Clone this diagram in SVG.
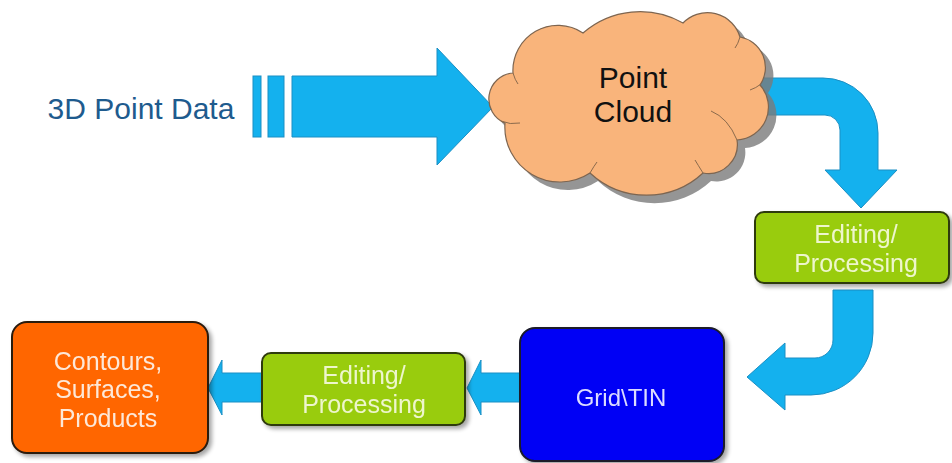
<svg xmlns="http://www.w3.org/2000/svg" width="952" height="463" viewBox="0 0 952 463">
<defs>
<filter id="sh" x="-10%" y="-10%" width="130%" height="130%">
<feGaussianBlur in="SourceAlpha" stdDeviation="2"/>
<feOffset dx="3" dy="3" result="b"/>
<feComponentTransfer><feFuncA type="linear" slope="0.35"/></feComponentTransfer>
<feMerge><feMergeNode/><feMergeNode in="SourceGraphic"/></feMerge>
</filter>
<path id="cloudShape" d="M505,123 A26,26 0 0 1 513,73 A45,45 0 0 1 583,33 A87,87 0 0 1 683,23 A34,34 0 0 1 740,37 A31,31 0 0 1 760,85 A33,33 0 0 1 737,140 A29,29 0 0 1 703,173 A83,83 0 0 1 590,173 A55,55 0 0 1 505,123 Z"/>
</defs>
<style>
.arr{fill:#14b1ee;stroke:#1a8fc4;stroke-width:1}
.green{fill:#99cc11;stroke:#2e3a10;stroke-width:2}
.t{font-family:"Liberation Sans",Arial,sans-serif;text-anchor:middle}
.lt{fill:#eef6cc;font-size:25px}
.notch{fill:none;stroke:#8b6a4c;stroke-width:1}
</style>
<rect width="952" height="463" fill="#ffffff"/>
<g id="connectors">
<rect class="arr" x="253" y="76" width="8" height="61"/>
<rect class="arr" x="268" y="76" width="16" height="61"/>
<path class="arr" d="M292,76 H437 V48 L493,107 L437,165 V137 H292 Z"/>
<path class="arr" d="M760,78 H823 A55,55 0 0 1 878,133 V170 H897 L861,208 L825,170 H840 V130 A15,15 0 0 0 825,115 H760 Z"/>
<path class="arr" d="M833,290 H873 V333 A62,62 0 0 1 811,395 H785 V410 L747,377 L785,343 V358 H815 A18,18 0 0 0 833,340 Z"/>
<path class="arr" d="M520,373 H481 V360 L467,388 L481,415 V402 H520 Z"/>
<path class="arr" d="M262,373 H222 V360 L208,388 L222,415 V402 H262 Z"/>
</g>
<g id="source">
<text class="t" x="141" y="119" font-size="30" fill="#1e5b8e">3D Point Data</text>
</g>
<g id="cloud">
<use href="#cloudShape" transform="translate(8,8)" fill="#7a7a7a" opacity="0.8"/>
<use href="#cloudShape" fill="#f9b47b" stroke="#7d6550" stroke-width="1.2"/>
<path class="notch" d="M501,121 Q510,125 520,123"/>
<path class="notch" d="M513,73 Q515,80 518,84"/>
<path class="notch" d="M740,37 Q738,44 735,48"/>
<path class="notch" d="M761,84 Q756,88 750,90"/>
<path class="notch" d="M711,111 Q728,118 737,140"/>
<path class="notch" d="M703,173 Q698,165 695,160"/>
<path class="notch" d="M590,173 Q594,166 597,162"/>
<text class="t" x="633" y="88" font-size="30" fill="#111111">Point</text>
<text class="t" x="633" y="122" font-size="30" fill="#111111">Cloud</text>
</g>
<g id="edit1" filter="url(#sh)">
<rect class="green" x="755" y="212" width="194" height="71" rx="9"/>
<text class="t lt" x="856" y="243">Editing/</text>
<text class="t lt" x="856" y="272">Processing</text>
</g>
<g id="grid" filter="url(#sh)">
<rect x="520" y="328" width="204" height="133" rx="15" fill="#0000f5" stroke="#1a1a2a" stroke-width="2"/>
<text class="t" x="621" y="406" font-size="24" fill="#dcdcff">Grid\TIN</text>
</g>
<g id="edit2" filter="url(#sh)">
<rect class="green" x="262" y="353" width="203" height="72" rx="9"/>
<text class="t lt" x="364" y="384">Editing/</text>
<text class="t lt" x="364" y="413">Processing</text>
</g>
<g id="products" filter="url(#sh)">
<rect x="12" y="322" width="196" height="131" rx="15" fill="#ff6600" stroke="#2a1a10" stroke-width="2"/>
<text class="t" x="108" y="370" font-size="25" fill="#fde8d8">Contours,</text>
<text class="t" x="108" y="398" font-size="25" fill="#fde8d8">Surfaces,</text>
<text class="t" x="108" y="427" font-size="25" fill="#fde8d8">Products</text>
</g>
</svg>
